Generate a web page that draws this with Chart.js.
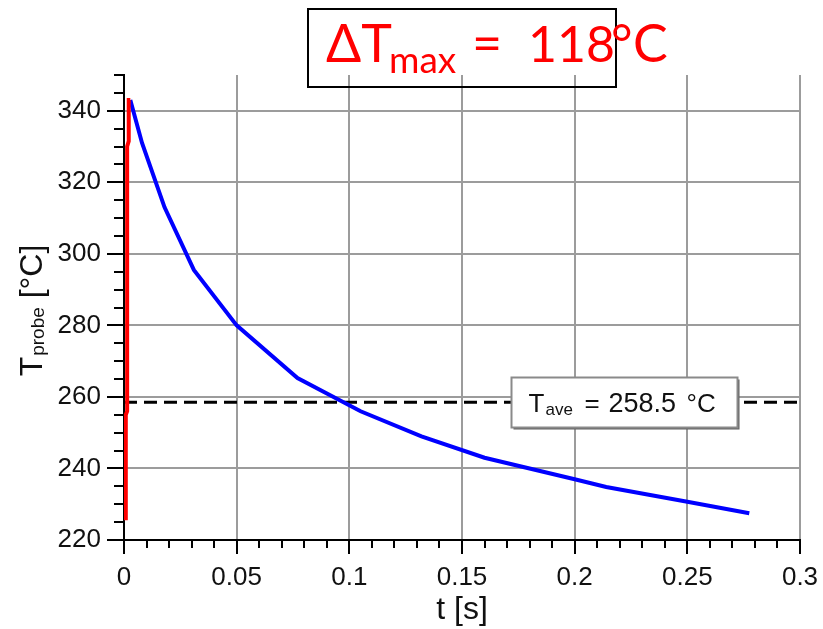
<!DOCTYPE html>
<html>
<head>
<meta charset="utf-8">
<script src="https://cdn.jsdelivr.net/npm/chart.js@4.4.1/dist/chart.umd.min.js"></script>
<style>
html, body { margin: 0; padding: 0; background: #fff; }
#wrap { width: 823px; height: 629px; }
</style>
</head>
<body>
<div id="wrap"><canvas id="probeChart" width="823" height="629"></canvas></div>
<script>
"use strict";

/* cooling branch of the probe temperature */
var coolTime = [0.0028, 0.008, 0.018, 0.031, 0.05, 0.077, 0.105, 0.132, 0.16, 0.2, 0.214, 0.25, 0.2775];
var coolTemp = [343, 331, 313, 295.5, 280, 265.3, 256, 249, 243, 237, 234.8, 230.7, 227.5];
/* heating branch, nearly instantaneous */
var heatTime = [0.0008, 0.0008, 0.0014, 0.0014, 0.0021, 0.0021, 0.0028];
var heatTemp = [225.5, 255, 256, 330, 331.5, 343, 343];

var aveTemp = 258.5;
var dTmax = 118;

var xTickValues = [0, 0.05, 0.1, 0.15, 0.2, 0.25, 0.3];
var xTickLabels = ['0', '0.05', '0.1', '0.15', '0.2', '0.25', '0.3'];
var yTickValues = [220, 240, 260, 280, 300, 320, 340];
var yTickLabels = ['220', '240', '260', '280', '300', '320', '340'];
var xRange = [0, 0.3];
var yRange = [220, 350];
var xMinorStep = 0.01;
var yMinorStep = 5;

var labelFont = '"Liberation Sans", Arial, sans-serif';
var headFont = 'Lato, "Noto Sans", sans-serif';

function toPoints(xs, ys) {
    return xs.map(function (x, i) { return { x: x, y: ys[i] }; });
}

/* ticks, axis titles and the two text boxes */
var decorPlugin = {
    id: 'decor',
    afterDraw: function (chart) {
        var ctx = chart.ctx;
        var xs = chart.scales.x;
        var ys = chart.scales.y;
        var area = chart.chartArea;
        var i, v, p, n;

        ctx.save();
        // major and minor tick marks
        ctx.strokeStyle = '#000';
        ctx.lineWidth = 2;
        ctx.beginPath();
        n = Math.round((xRange[1] - xRange[0]) / xMinorStep);
        for (i = 0; i <= n; i++) {
            v = xRange[0] + i * xMinorStep;
            p = Math.round(xs.getPixelForValue(v));
            ctx.moveTo(p, area.bottom);
            ctx.lineTo(p, area.bottom + (i % 5 === 0 ? 14 : 8));
        }
        n = Math.round((yRange[1] - yRange[0]) / yMinorStep);
        for (i = 0; i <= n; i++) {
            v = yRange[0] + i * yMinorStep;
            p = Math.round(ys.getPixelForValue(v));
            ctx.moveTo(area.left, p);
            ctx.lineTo(area.left - (i % 4 === 0 ? 17 : 10), p);
        }
        ctx.stroke();

        // x axis title
        ctx.fillStyle = '#111';
        ctx.textAlign = 'center';
        ctx.textBaseline = 'alphabetic';
        ctx.font = '32px ' + labelFont;
        ctx.fillText('t [s]', (area.left + area.right) / 2, 619);

        // y axis title, rotated, with subscript
        ctx.save();
        ctx.font = '32px ' + labelFont;
        var wT = ctx.measureText('T').width;
        var wU = ctx.measureText(' [\u00b0C]').width;
        ctx.font = '19px ' + labelFont;
        var wS = ctx.measureText('probe').width;
        var total = wT + 1 + wS + wU;
        ctx.translate(42, (area.top + area.bottom) / 2 + 3 + total / 2);
        ctx.rotate(-Math.PI / 2);
        ctx.textAlign = 'left';
        ctx.font = '32px ' + labelFont;
        ctx.fillText('T', 0, 0);
        ctx.font = '19px ' + labelFont;
        ctx.fillText('probe', wT + 1, 2);
        ctx.font = '32px ' + labelFont;
        ctx.fillText(' [\u00b0C]', wT + 1 + wS, 0);
        ctx.restore();

        // average temperature box, anchored on the dashed line
        var cx = xs.getPixelForValue(0.222);
        var cy = ys.getPixelForValue(aveTemp);
        var bw = 226, bh = 50;
        var bx = Math.round(cx - bw / 2) + 0.5, by = Math.round(cy - bh / 2) + 0.5;
        ctx.fillStyle = '#606060';
        ctx.fillRect(bx + 2, by + 2, bw, bh);
        ctx.fillStyle = '#fff';
        ctx.fillRect(bx, by, bw, bh);
        ctx.strokeStyle = '#8a8a8a';
        ctx.lineWidth = 2;
        ctx.strokeRect(bx, by, bw, bh);
        ctx.fillStyle = '#111';
        ctx.textAlign = 'left';
        ctx.font = '26px ' + labelFont;
        ctx.fillText('T', bx + 17, cy + 10);
        ctx.font = '17px ' + labelFont;
        ctx.fillText('ave', bx + 34, cy + 13);
        ctx.font = '26px ' + labelFont;
        ctx.fillText('=', bx + 73, cy + 10);
        ctx.font = '27px ' + labelFont;
        ctx.fillText(aveTemp.toFixed(1), bx + 97, cy + 10);
        ctx.font = '26px ' + labelFont;
        ctx.fillText('\u00b0C', bx + 175, cy + 10);

        // max temperature rise heading
        ctx.strokeStyle = '#000';
        ctx.lineWidth = 2;
        ctx.strokeRect(308, 9, 308, 78);
        ctx.fillStyle = '#ff0000';
        ctx.font = '52px ' + headFont;
        ctx.fillText('\u0394T', 326, 62);
        ctx.font = '37px ' + headFont;
        ctx.fillText('max', 389, 73);
        ctx.font = '52px ' + headFont;
        ctx.fillText('=', 472, 62);
        ctx.font = '50px ' + headFont;
        ctx.fillText(String(dTmax), 528, 62);
        ctx.font = '52px ' + headFont;
        ctx.fillText('\u00b0', 611, 62);
        ctx.fillText('C', 633, 62);

        ctx.restore();
    }
};

var chart = new Chart(document.getElementById('probeChart'), {
    type: 'scatter',
    data: {
        datasets: [{
            label: 'T ave',
            data: [{ x: xRange[0], y: aveTemp }, { x: xRange[1], y: aveTemp }],
            showLine: true,
            borderColor: '#000',
            borderWidth: 3,
            borderDash: [13, 7],
            pointRadius: 0,
            order: 3
        }, {
            label: 'cooling',
            data: toPoints(coolTime, coolTemp),
            showLine: true,
            borderColor: '#0000ff',
            borderWidth: 4,
            pointRadius: 0,
            order: 2
        }, {
            label: 'heating',
            data: toPoints(heatTime, heatTemp),
            showLine: true,
            borderColor: '#ff0000',
            borderWidth: 4,
            pointRadius: 0,
            order: 1
        }]
    },
    options: {
        responsive: false,
        animation: false,
        devicePixelRatio: 1,
        layout: { padding: { top: 75, right: 23, left: 0, bottom: 0 } },
        plugins: {
            legend: { display: false },
            tooltip: { enabled: false }
        },
        scales: {
            x: {
                type: 'linear',
                min: xRange[0],
                max: xRange[1],
                afterBuildTicks: function (scale) {
                    scale.ticks = xTickValues.map(function (v) { return { value: v }; });
                },
                afterFit: function (scale) {
                    scale.height = 89;
                    // the last label may run off the canvas edge
                    scale.paddingLeft = 0;
                    scale.paddingRight = 0;
                },
                grid: { color: '#9c9c9c', lineWidth: 2, drawTicks: false },
                border: { color: '#000', width: 2 },
                ticks: {
                    padding: 22,
                    color: '#111',
                    font: { family: labelFont, size: 26 },
                    maxRotation: 0,
                    callback: function (value, index) { return xTickLabels[index]; }
                }
            },
            y: {
                type: 'linear',
                min: yRange[0],
                max: yRange[1],
                afterBuildTicks: function (scale) {
                    scale.ticks = yTickValues.map(function (v) { return { value: v }; });
                },
                afterFit: function (scale) {
                    scale.width = 124;
                    scale.paddingTop = 0;
                    scale.paddingBottom = 0;
                },
                grid: { color: '#9c9c9c', lineWidth: 2, drawTicks: false },
                border: { color: '#000', width: 2 },
                ticks: {
                    padding: 23,
                    color: '#111',
                    font: { family: labelFont, size: 26 },
                    callback: function (value, index) { return yTickLabels[index]; }
                }
            }
        }
    },
    plugins: [decorPlugin]
});
</script>
</body>
</html>
